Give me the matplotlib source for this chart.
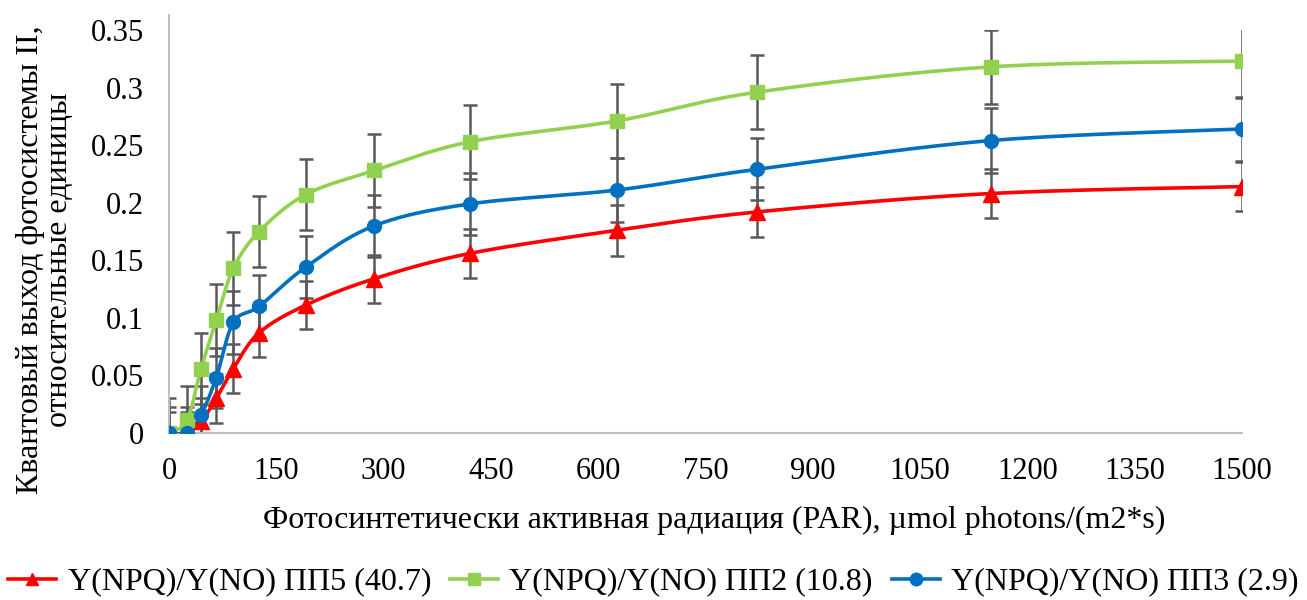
import numpy as np
import matplotlib
matplotlib.use('Agg')
import matplotlib.pyplot as plt
from matplotlib.lines import Line2D

plt.rcParams['font.family'] = ['Liberation Serif', 'DejaVu Serif']

# light intensities, umol photons/(m2*s)
par = [0, 25, 45, 66, 90, 126, 191, 287, 421, 626, 822, 1149, 1500]

pp5 = [0, 0, 0.010, 0.030, 0.056, 0.087, 0.111, 0.134, 0.156, 0.176, 0.192, 0.208, 0.214]
pp5_err = [0.018, 0.018, 0.020, 0.021, 0.021, 0.021, 0.021, 0.021, 0.021, 0.022, 0.022, 0.021, 0.021]

pp2 = [0, 0.011, 0.056, 0.098, 0.143, 0.175, 0.207, 0.228, 0.253, 0.271, 0.296, 0.318, 0.323]
pp2_err = [0.030, 0.030, 0.031, 0.031, 0.032, 0.031, 0.031, 0.032, 0.032, 0.032, 0.032, 0.032, 0.032]

pp3 = [0, 0, 0.016, 0.048, 0.096, 0.110, 0.144, 0.180, 0.199, 0.211, 0.229, 0.254, 0.264]
pp3_err = [0.023, 0.023, 0.025, 0.026, 0.027, 0.027, 0.027, 0.027, 0.027, 0.028, 0.027, 0.028, 0.028]

labels = ['Y(NPQ)/Y(NO) ПП5 (40.7)', 'Y(NPQ)/Y(NO) ПП2 (10.8)', 'Y(NPQ)/Y(NO) ПП3 (2.9)']
colors = ['#ff0000', '#92d050', '#0070c0']
markers = ['^', 's', 'o']


def smooth(x, y, n=30):
    # catmull-rom through the points, scaled roughly to screen aspect
    sx, sy = 1500.0, 0.35 * 2.66
    p = np.column_stack([np.array(x) / sx, np.array(y) / sy])
    p = np.vstack([p[0], p, p[-1]])
    out = []
    for i in range(1, len(p) - 2):
        p0, p1, p2, p3 = p[i - 1], p[i], p[i + 1], p[i + 2]
        t = np.linspace(0, 1, n)[:, None]
        seg = 0.5 * ((2 * p1) + (-p0 + p2) * t + (2 * p0 - 5 * p1 + 4 * p2 - p3) * t ** 2
                     + (-p0 + 3 * p1 - 3 * p2 + p3) * t ** 3)
        out.append(seg)
    out = np.vstack(out)
    return out[:, 0] * sx, out[:, 1] * sy


fig = plt.figure(figsize=(13.07, 6.0), dpi=100)
ax = fig.add_axes([169 / 1307, 1 - 433 / 600, (1242 - 169) / 1307, (433 - 30) / 600])

series = [(pp5, pp5_err), (pp2, pp2_err), (pp3, pp3_err)]
for (vals, err), c, m, lab in zip(series, colors, markers, labels):
    ax.errorbar(par, vals, yerr=err, fmt='none', ecolor='#595959', elinewidth=1.8,
                capsize=5, capthick=1.8, zorder=2)
for (vals, err), c, m, lab in zip(series, colors, markers, labels):
    xs, ys = smooth(par, vals)
    ax.plot(xs, ys, color=c, lw=2.6, zorder=3, solid_capstyle='round')
    ax.plot(par, vals, ls='none', marker=m, color=c, ms=10 if m != '^' else 11, zorder=4)

ax.set_xlim(0, 1500)
ax.set_ylim(0, 0.35)
ax.set_xticks(np.arange(0, 1501, 150))
ax.set_yticks(np.arange(0, 0.351, 0.05))
ax.set_yticklabels(['0', '0.05', '0.1', '0.15', '0.2', '0.25', '0.3', '0.35'])
ax.tick_params(length=0, labelsize=22)
ax.tick_params(axis='x', pad=17)
ax.tick_params(axis='y', pad=18)
for s in ['top', 'right']:
    ax.spines[s].set_visible(False)
for s in ['left', 'bottom']:
    ax.spines[s].set_color('#bfbfbf')
    ax.spines[s].set_linewidth(1.5)
ax.spines['left'].set_bounds(0, 0.363)
ax.patch.set_visible(False)

fig.text(714 / 1307, 1 - 520 / 600,
         'Фотосинтетически активная радиация (PAR), µmol photons/(m2*s)',
         fontsize=23, ha='center', va='center')
fig.text(45 / 1307, 1 - 260 / 600,
         'Квантовый выход фотосистемы II,\nотносительные единицы',
         fontsize=23, ha='center', va='center', rotation=90, linespacing=1.0)

handles = [Line2D([0], [0], color=c, lw=2.6, marker=m, ms=9) for c, m in zip(colors, markers)]
fig.legend(handles, labels, loc='center', bbox_to_anchor=(0.5, 1 - 582 / 600), ncol=3,
           frameon=False, fontsize=23, handlelength=1.5, handletextpad=0.35, columnspacing=0.6)

fig.savefig('out.png', dpi=100)
